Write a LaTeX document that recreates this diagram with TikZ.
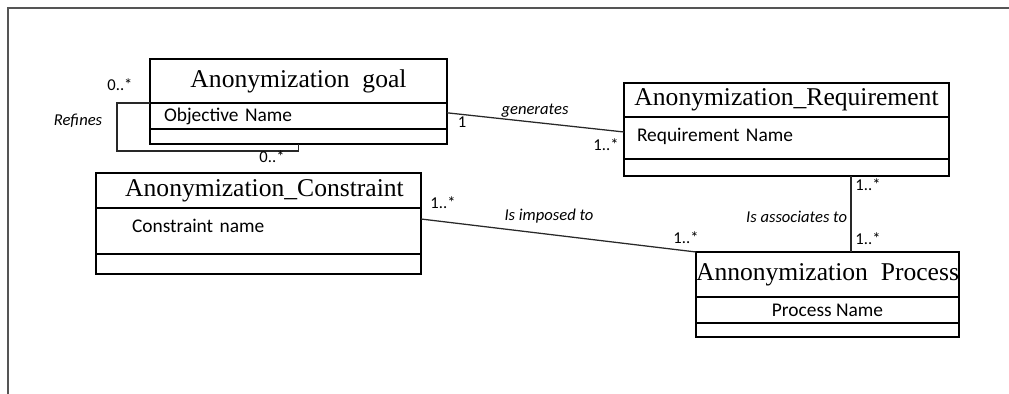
\documentclass[tikz,border=0pt]{standalone}
\usepackage{fontspec}
\setmainfont{Liberation Serif}
\newfontfamily\calibrifont{Carlito}
\usepackage{tikz}
\usetikzlibrary{positioning,calc}
\definecolor{framegray}{RGB}{85,85,85}
\definecolor{linegray}{RGB}{40,40,40}
\newcommand{\clsfont}{\fontsize{18.2pt}{20pt}\selectfont}
\newcommand{\attrfont}{\calibrifont\fontsize{13.8pt}{15pt}\selectfont}
\newcommand{\lblfont}{\calibrifont\fontsize{11.8pt}{13pt}\selectfont}

\begin{document}
\begin{tikzpicture}[
ctitle/.style={draw, line width=1pt, outer sep=0pt, inner sep=0pt, font=\clsfont},
cattr/.style={draw, line width=1pt, outer sep=0pt, inner ysep=0pt, align=left, font=\attrfont},
cops/.style={draw, line width=1pt, outer sep=0pt, inner sep=0pt},
assoc/.style={draw=linegray, line width=0.9pt},
mult/.style={font=\lblfont, inner sep=1pt},
role/.style={font=\lblfont\itshape, inner sep=1pt}
]
\useasboundingbox (0,0) rectangle (25.225,-9.85);

% frame
\draw[framegray, line width=1.4pt] (0.175,-0.2) -- (25.225,-0.2);
\draw[framegray, line width=1.4pt] (0.2,-0.2) -- (0.2,-9.85);

% Anonymization goal
\node[ctitle, minimum width=7.425cm, minimum height=1.1cm, anchor=north west] (goal) at (3.75,-1.475) {Anonymization\ \ goal};
\node[cattr, minimum width=7.425cm, minimum height=0.65cm, inner xsep=0.35cm, text width=6.725cm, anchor=north] (goalattr) at (goal.south) {Objective Name};
\node[cops, minimum width=7.425cm, minimum height=0.375cm, anchor=north] (goalops) at (goalattr.south) {};

% Anonymization_Requirement
\node[ctitle, minimum width=8.125cm, minimum height=0.85cm, anchor=north west] (req) at (15.6,-2.075) {Anonymization\_Requirement};
\node[cattr, minimum width=8.125cm, minimum height=1.05cm, inner xsep=0.325cm, text width=7.475cm, anchor=north] (reqattr) at (req.south) {\raisebox{0.15cm}{Requirement Name}};
\node[cops, minimum width=8.125cm, minimum height=0.425cm, anchor=north] (reqops) at (reqattr.south) {};

% Anonymization_Constraint
\node[ctitle, minimum width=8.125cm, minimum height=0.875cm, anchor=north west] (cons) at (2.4,-4.325) {\hspace{0.3cm}Anonymization\_Constraint};
\node[cattr, minimum width=8.125cm, minimum height=1.15cm, inner xsep=0.9cm, text width=6.325cm, anchor=north] (consattr) at (cons.south) {\raisebox{0.25cm}{Constraint name}};
\node[cops, minimum width=8.125cm, minimum height=0.5cm, anchor=north] (consops) at (consattr.south) {};

% Annonymization Process
\node[ctitle, minimum width=6.575cm, minimum height=1.125cm, anchor=north west] (proc) at (17.4,-6.3) {Annonymization\ \ Process};
\node[cattr, minimum width=6.575cm, minimum height=0.65cm, align=center, anchor=north] (procattr) at (proc.south) {Process Name};
\node[cops, minimum width=6.575cm, minimum height=0.35cm, anchor=north] (procops) at (procattr.south) {};

% refines (self association)
\coordinate (loopc) at (2.925,-3.775);
\draw[assoc] (goal.south west) -| (loopc) -| (goalops.south);
\node[mult] (m1) at (3.0,-2.125) {0..*};
\node[role] (r1) at (1.95,-3.025) {Refines};
\node[mult] (m2) at (6.8,-3.925) {0..*};

% generates
\draw[assoc] ([yshift=0.08cm]goalattr.east) -- ([yshift=0.15cm]reqattr.west);
\node[role] (r2) at (13.375,-2.775) {generates};
\node[mult] (m3) at (11.55,-3.05) {1};
\node[mult] (m4) at (15.15,-3.625) {1..*};

% is imposed to
\draw[assoc] ([yshift=0.3cm]consattr.east) -- (proc.north west);
\node[mult] (m5) at (11.075,-5.075) {1..*};
\node[role] (r3) at (13.725,-5.4) {Is imposed to};
\node[mult] (m6) at (17.15,-5.95) {1..*};

% is associates to
\coordinate (assocx) at (21.275,0);
\draw[assoc] (reqops.south -| assocx) -- (proc.north -| assocx);
\node[mult] (m7) at (21.7,-4.625) {1..*};
\node[mult] (m8) at (21.7,-5.975) {1..*};
\node[role, anchor=east] (r4) at (21.22,-5.425) {Is associates to};

\end{tikzpicture}
\end{document}
